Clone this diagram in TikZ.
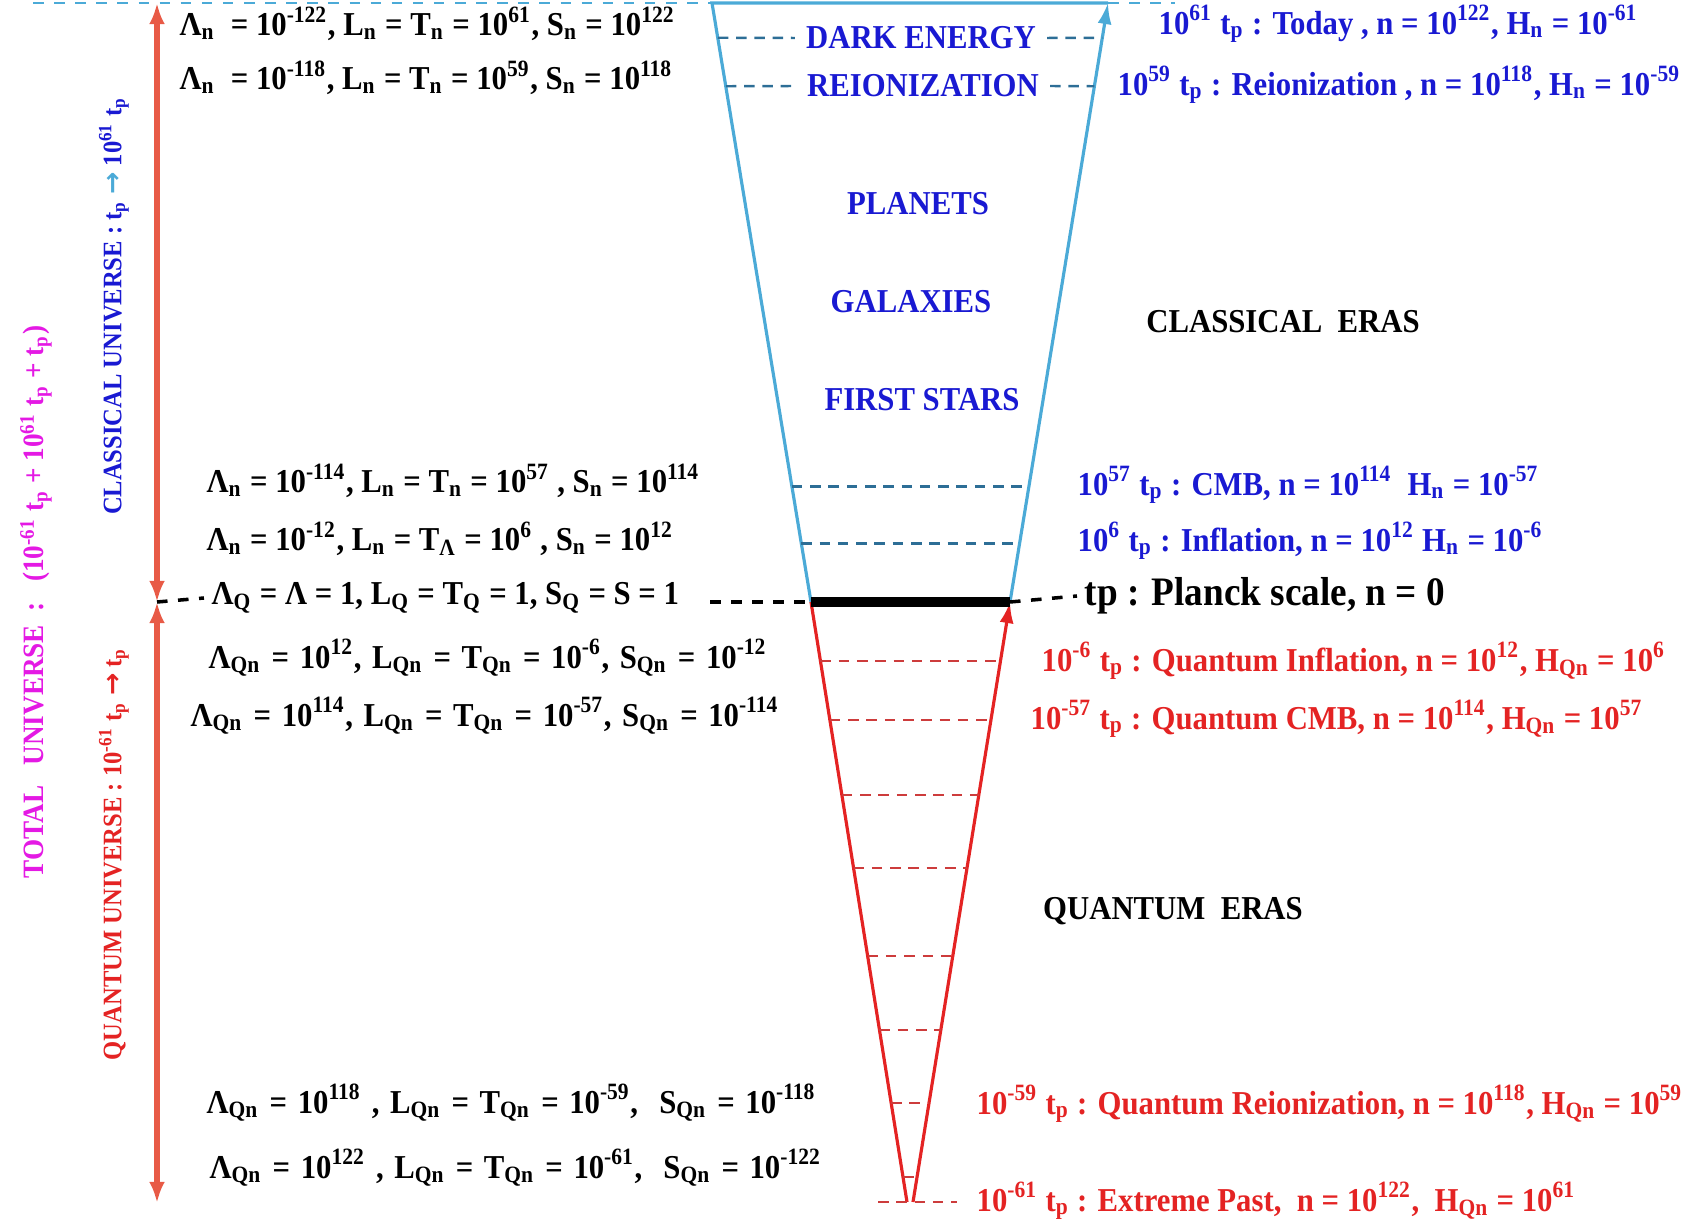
\documentclass[tikz,border=0pt]{standalone}
\usepackage{fontspec}
\setmainfont[FakeStretch=0.92]{Liberation Serif}
\newfontfamily\arrowfont{DejaVu Sans}
\usepackage{xcolor}
\usetikzlibrary{calc, arrows.meta}

\definecolor{skyline}{RGB}{75,170,215}
\definecolor{eraBlue}{RGB}{25,25,210}
\definecolor{eraRed}{RGB}{228,35,35}
\definecolor{axisRed}{RGB}{232,90,70}
\definecolor{totalPink}{RGB}{228,25,228}
\definecolor{levelTeal}{RGB}{45,110,150}
\definecolor{levelRed}{RGB}{205,60,60}

\newcommand{\up}[1]{\textsuperscript{#1}}
\newcommand{\dn}[1]{\textsubscript{#1}}
\newcommand{\goesto}{{\arrowfont\bfseries →}}

\begin{document}
\begin{tikzpicture}[x=0.01cm, y=-0.01cm,
    font=\fontsize{9.5}{11}\selectfont\bfseries,
    rowtxt/.style={anchor=west, inner sep=0pt, text=black},
    widerow/.style={rowtxt, execute at begin node={\spaceskip=3pt\relax}},
    clstxt/.style={anchor=west, inner sep=0pt, text=eraBlue},
    qtmtxt/.style={anchor=west, inner sep=0pt, text=eraRed},
    erabox/.style={inner sep=0pt, text=eraBlue},
    unilbl/.style={rotate=90, inner sep=0pt, font=\fontsize{7.6}{9}\selectfont\bfseries},
    level/.style={dash pattern=on 3pt off 2.2pt, line width=0.7pt}]

    % Canvas
    \useasboundingbox (0,0) rectangle (1700,1225);

    % Funnel corners
    \coordinate (ctl) at (712,3);    % classical top left
    \coordinate (ctr) at (1108,3);   % classical top right
    \coordinate (pl) at (811,602);   % Planck left
    \coordinate (pr) at (1010,602);  % Planck right
    \coordinate (al) at (907,1202);  % apex left
    \coordinate (ar) at (913,1202);  % apex right

    % Time axis on the left
    \coordinate (axTop) at (157,3);
    \coordinate (axMid) at (157,602);
    \coordinate (axBot) at (157,1203);
    \draw[axisRed, line width=1.6pt, {Latex[length=6pt,width=4.5pt]}-{Latex[length=6pt,width=4.5pt]}] (axMid) -- (axTop);
    \draw[axisRed, line width=1.6pt, {Latex[length=6pt,width=4.5pt]}-{Latex[length=6pt,width=4.5pt]}] (axMid) -- (axBot);

    % Top line (today)
    \coordinate (topL) at (33,3);
    \coordinate (topR) at (1175,3);
    \draw[skyline, dashed] (topL) -- (ctl);
    \draw[skyline, dashed] (ctr) -- (topR);

    % Classical funnel
    \draw[skyline, line width=0.9pt] (pl) -- (ctl) -- (ctr);
    \draw[skyline, line width=0.9pt, -{Latex[length=6pt,width=4pt]}] (pr) -- (ctr);

    % Quantum funnel
    \draw[eraRed, line width=0.9pt] (pl) -- (al);
    \draw[eraRed, line width=0.9pt, -{Latex[length=6pt,width=4pt]}] (ar) -- (pr);

    % Planck scale
    \draw[line width=2.6pt] (pl) -- (pr);

    % Classical levels with names inside
    \node[erabox] (darkE) at (921,38) {DARK ENERGY};
    \node[erabox] (reion) at (923,86) {REIONIZATION};
    \coordinate (deL) at ($(ctl)!0.058!(pl)$);
    \coordinate (deR) at ($(ctr)!0.058!(pr)$);
    \coordinate (reL) at ($(ctl)!0.139!(pl)$);
    \coordinate (reR) at ($(ctr)!0.139!(pr)$);
    \draw[levelTeal, level] (deL) -- ([xshift=-3pt]darkE.west);
    \draw[levelTeal, level] ([xshift=3pt]darkE.east) -- (deR);
    \draw[levelTeal, level] (reL) -- ([xshift=-3pt]reion.west);
    \draw[levelTeal, level] ([xshift=3pt]reion.east) -- (reR);

    \node[erabox] (planets) at (918,204) {PLANETS};
    \node[erabox] (galax) at (911,302) {GALAXIES};
    \node[erabox] (stars) at (922,400) {FIRST STARS};

    % CMB and inflation
    \foreach \t [count=\i] in {0.807, 0.902} {
        \coordinate (cL\i) at ($(ctl)!\t!(pl)$);
        \coordinate (cR\i) at ($(ctr)!\t!(pr)$);
        \draw[levelTeal, level] (cL\i) -- (cR\i);
    }

    % Quantum levels
    \foreach \t [count=\i] in {0.098, 0.197, 0.322, 0.443, 0.59, 0.713, 0.835, 0.958} {
        \coordinate (qL\i) at ($(pl)!\t!(al)$);
        \coordinate (qR\i) at ($(pr)!\t!(ar)$);
        \draw[levelRed, level] (qL\i) -- (qR\i);
    }
    \coordinate (xpL) at (878,1202);
    \coordinate (xpR) at (957,1202);
    \draw[levelRed, level] (xpL) -- (xpR);

    % Left column: classical values
    \node[rowtxt] (r1) at (179,24) {Λ\dn{n}\ \ = 10\up{-122}, L\dn{n} = T\dn{n} = 10\up{61}, S\dn{n} = 10\up{122}};
    \node[rowtxt] (r2) at (179,78) {Λ\dn{n}\ \ = 10\up{-118}, L\dn{n} = T\dn{n} = 10\up{59}, S\dn{n} = 10\up{118}};
    \node[rowtxt] (r3) at (206,481) {Λ\dn{n} = 10\up{-114}, L\dn{n} = T\dn{n} = 10\up{57} , S\dn{n} = 10\up{114}};
    \node[rowtxt] (r4) at (206,539) {Λ\dn{n} = 10\up{-12}, L\dn{n} = T\dn{Λ} = 10\up{6} , S\dn{n} = 10\up{12}};
    \node[rowtxt] (r5) at (211,598) {Λ\dn{Q} = Λ = 1, L\dn{Q} = T\dn{Q} = 1,\ S\dn{Q} = S = 1};
    % Left column: quantum values
    \node[widerow] (r6) at (208,658) {Λ\dn{Qn} = 10\up{12},\ L\dn{Qn} = T\dn{Qn} = 10\up{-6}, S\dn{Qn} = 10\up{-12}};
    \node[widerow] (r7) at (190,716) {Λ\dn{Qn} = 10\up{114}, L\dn{Qn} = T\dn{Qn} = 10\up{-57}, S\dn{Qn} = 10\up{-114}};
    \node[widerow] (r8) at (206,1103) {Λ\dn{Qn} = 10\up{118} , L\dn{Qn} = T\dn{Qn} = 10\up{-59},\ \ S\dn{Qn} = 10\up{-118}};
    \node[widerow] (r9) at (209,1168) {Λ\dn{Qn} = 10\up{122} , L\dn{Qn} = T\dn{Qn} = 10\up{-61},\ \ S\dn{Qn} = 10\up{-122}};

    % Planck row dashes
    \coordinate (pdL) at (710,602);
    \draw[dashed, line width=1pt] (axMid) -- ([xshift=-2pt]r5.west);
    \draw[dashed, line width=1pt] (pdL) -- (pl);

    % Right column
    \node[clstxt] (today) at (1158,24) {10\up{61} t\dn{p} : Today , n = 10\up{122}, H\dn{n} = 10\up{-61}};
    \node[clstxt] (reiT) at (1117,85) {10\up{59} t\dn{p} : Reionization ,\ n = 10\up{118}, H\dn{n} = 10\up{-59}};
    \node[rowtxt, anchor=center] (clsEra) at (1283,322) {CLASSICAL\ \ ERAS};
    \node[clstxt] (cmbT) at (1077,485) {10\up{57} t\dn{p} : CMB, n = 10\up{114}\ \ H\dn{n} = 10\up{-57}};
    \node[clstxt] (infT) at (1077,541) {10\up{6} t\dn{p} : Inflation, n = 10\up{12} H\dn{n} = 10\up{-6}};
    \node[rowtxt, font=\fontsize{11.5}{13}\selectfont\bfseries] (planck) at (1084,596) {tp : Planck scale, n = 0};
    \draw[dashed, line width=1pt] (pr) -- ([xshift=-2pt]planck.west);
    \node[qtmtxt] (qinfT) at (1041,661) {10\up{-6} t\dn{p} : Quantum Inflation, n = 10\up{12}, H\dn{Qn} = 10\up{6}};
    \node[qtmtxt] (qcmbT) at (1030,719) {10\up{-57} t\dn{p} : Quantum CMB, n = 10\up{114}, H\dn{Qn} = 10\up{57}};
    \node[rowtxt, anchor=center] (qtmEra) at (1173,911) {QUANTUM\ \ ERAS};
    \node[qtmtxt] (qreiT) at (976,1104) {10\up{-59} t\dn{p} : Quantum Reionization, n = 10\up{118}, H\dn{Qn} = 10\up{59}};
    \node[qtmtxt] (pastT) at (976,1201) {10\up{-61} t\dn{p} : Extreme Past,\ \ n = 10\up{122},\ \ H\dn{Qn} = 10\up{61}};

    % Rotated universe labels
    \node[unilbl, text=totalPink, font=\fontsize{8.4}{10}\selectfont\bfseries] (total) at (36,602) {TOTAL\ \ \ UNIVERSE\ \ :\ \ \ (10\up{-61} t\dn{p} + 10\up{61} t\dn{p} + t\dn{p})};
    \node[unilbl, text=eraBlue] (clsUni) at (114,306) {CLASSICAL UNIVERSE : t\dn{p} {\color{skyline}\goesto} 10\up{61} t\dn{p}};
    \node[unilbl, text=eraRed] (qtmUni) at (114,854) {QUANTUM UNIVERSE : 10\up{-61} t\dn{p} \goesto\ t\dn{p}};

\end{tikzpicture}
\end{document}
